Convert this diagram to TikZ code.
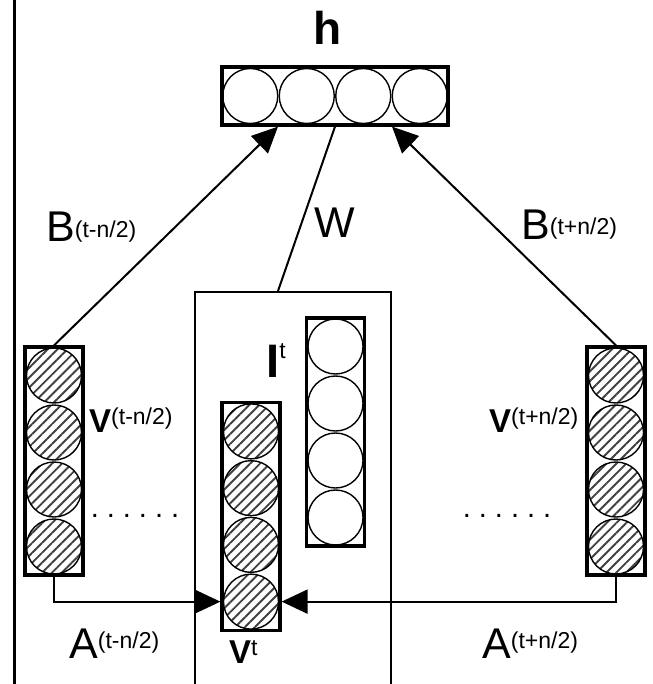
\documentclass[tikz,border=0pt]{standalone}
\usepackage{fontspec}
\setmainfont{Liberation Sans}
\usetikzlibrary{arrows.meta,positioning,patterns.meta}

\newcommand{\lsup}[3][12pt]{#2\raisebox{#1}{\fontsize{23}{25}\selectfont\mdseries #3}}
\newcommand{\sixdots}{.\hspace{8pt}.\hspace{8pt}.\hspace{8pt}.\hspace{8pt}.\hspace{8pt}.}

\begin{document}
\begin{tikzpicture}[x=1pt, y=-1pt,
  col/.style   = {draw, line width=3.2pt, inner sep=0pt, minimum width=58pt, minimum height=228pt},
  row/.style   = {draw, line width=3.2pt, inner sep=0pt, minimum width=226pt, minimum height=58pt},
  unit/.style  = {draw, circle, line width=1.4pt, inner sep=0pt, minimum size=55pt},
  hunit/.style = {unit, pattern={Lines[angle=45,distance=7pt,line width=1.9pt]}, pattern color=black!75},
  frame/.style = {draw, line width=2pt, inner sep=0pt, minimum width=196pt, minimum height=420pt},
  arr/.style   = {-{Triangle[length=26pt,width=24pt]}, line width=2pt},
  link/.style  = {line width=2pt},
  big/.style   = {font=\fontsize{43}{43}\selectfont, inner sep=0pt, anchor=base west},
  bvec/.style  = {font=\bfseries\fontsize{33}{33}\selectfont, inner sep=0pt, anchor=base west},
  dots/.style  = {font=\fontsize{29}{29}\selectfont, inner sep=0pt, anchor=base}
]
\useasboundingbox (0,0) rectangle (652,684);
\fill[white] (0,0) rectangle (652,684);
\clip (0,0) rectangle (652,684);

%% ---- outer frame edge ---------------------------------------------
\draw[line width=3pt] (14,-5) -- (14,690);

%% ---- hidden layer -------------------------------------------------
\node[row] (h) at (335,96) {};
\foreach \i in {1,...,4}
  \node[unit] (h\i) at ({222+(\i-0.5)*56.5},96) {};
\node[font=\bfseries\fontsize{46}{46}\selectfont, inner sep=0pt, anchor=base] (lbh) at (328,45) {h};

%% ---- context window -----------------------------------------------
\node[frame] (ctx) at (293,502) {};

\node[col] (vc) at (251,516.5) {};
\foreach \i in {1,...,4}
  \node[hunit] (vc\i) at (251,{403+(\i-0.5)*56.75}) {};

\node[col] (it) at (335.5,432) {};
\foreach \i in {1,...,4}
  \node[unit] (it\i) at (335.5,{318+(\i-0.5)*57}) {};

\node[col] (vl) at (54,461) {};
\foreach \i in {1,...,4}
  \node[hunit] (vl\i) at (54,{347+(\i-0.5)*57}) {};

\node[col] (vr) at (616,461) {};
\foreach \i in {1,...,4}
  \node[hunit] (vr\i) at (616,{347+(\i-0.5)*57}) {};

%% ---- connections --------------------------------------------------
\draw[arr] (vl.north) -- ([xshift=-57pt]h.south);
\draw[arr] (vr.north) -- ([xshift=57pt]h.south);
\draw[link] (h.south) -- ([xshift=-15pt]ctx.north);
\draw[arr] (vl.south) |- (vc4 -| vc.west);
\draw[arr] (vr.south) |- (vc4 -| vc.east);

%% ---- labels -------------------------------------------------------
\node[big] (lbB1) at (46,242) {\lsup[5pt]{B}{(t-n/2)}};
\node[big] (lbB2) at (521,240) {\lsup[5pt]{B}{(t+n/2)}};
\node[big] (lbW)  at (314,238) {W};
\node[big] (lbA1) at (69,658) {\lsup[10pt]{A}{(t-n/2)}};
\node[big] (lbA2) at (482,658) {\lsup[10pt]{A}{(t+n/2)}};
\node[bvec] (lbV1) at (89,432) {\lsup[8pt]{V}{(t-n/2)}};
\node[bvec] (lbV2) at (489,432) {\lsup[8pt]{V}{(t+n/2)}};
\node[bvec] (lbVt) at (229,663) {\lsup[8pt]{V}{t}};
\node[bvec, font=\bfseries\fontsize{47}{47}\selectfont] (lbI) at (266,377) {\lsup[19pt]{I}{t}};
\node[dots] (dl) at (135,517) {\sixdots};
\node[dots] (dr) at (507,517) {\sixdots};
\end{tikzpicture}
\end{document}
